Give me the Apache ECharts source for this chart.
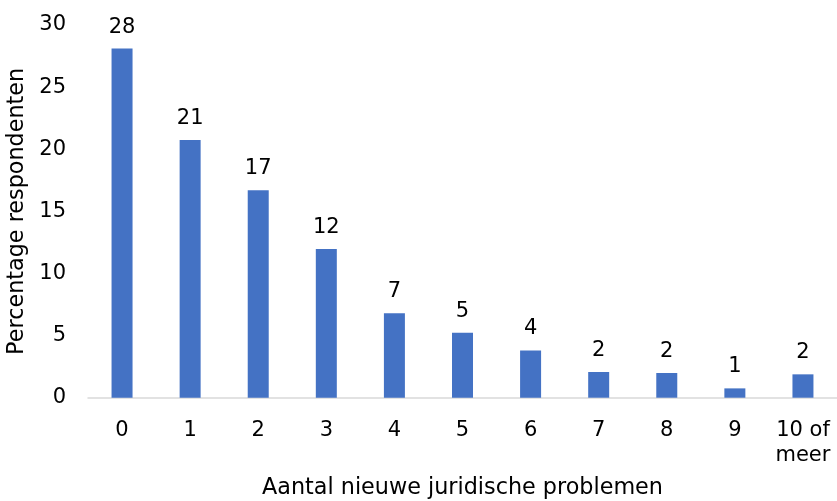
<!DOCTYPE html>
<html><head><meta charset="utf-8">
<script src="https://cdn.jsdelivr.net/npm/echarts@6/dist/echarts.min.js"></script>
<style>html,body{margin:0;padding:0;background:#fff}#c{width:837px;height:501px}</style>
</head><body><div id="c"></div>
<script>
const categories = ['0','1','2','3','4','5','6','7','8','9','10 of\nmeer'];
const values = [28.1, 20.75, 16.7, 11.97, 6.8, 5.23, 3.8, 2.07, 1.99, 0.75, 1.88];
const labels = ['28','21','17','12','7','5','4','2','2','1','2'];
const yTicks = [0, 5, 10, 15, 20, 25, 30];
const FONT = 'DejaVu Sans, Verdana, sans-serif';
const chart = echarts.init(document.getElementById('c'));
chart.setOption({
  animation: false,
  grid: {left: 88, right: 0, top: 25, bottom: 103.3, containLabel: false, outerBoundsMode: 'none'},
  xAxis: {
    type: 'category', data: categories,
    axisLine: {lineStyle: {color: '#d9d9d9', width: 1.5}},
    axisTick: {show: false},
    axisLabel: {color: '#000', fontFamily: FONT, fontSize: 21, margin: 20, lineHeight: 25, interval: 0, hideOverlap: false},
    name: 'Aantal nieuwe juridische problemen', nameLocation: 'middle', nameGap: 80,
    nameTextStyle: {color: '#000', fontFamily: FONT, fontSize: 22.3}
  },
  yAxis: {
    type: 'value', min: yTicks[0], max: yTicks[yTicks.length-1], interval: 5,
    axisLine: {show: false}, axisTick: {show: false}, splitLine: {show: false},
    axisLabel: {color: '#000', fontFamily: FONT, fontSize: 21, margin: 22},
    name: 'Percentage respondenten', nameLocation: 'middle', nameGap: 58, nameRotate: 90,
    nameTextStyle: {color: '#000', fontFamily: FONT, fontSize: 22.3}
  },
  series: [{
    type: 'bar', barWidth: 21,
    data: values.map((v, i) => ({value: v, label: {formatter: labels[i]}})),
    itemStyle: {color: '#4472C4'},
    label: {show: true, position: 'top', distance: 11, color: '#000', fontFamily: FONT, fontSize: 21}
  }]
});
</script></body></html>
